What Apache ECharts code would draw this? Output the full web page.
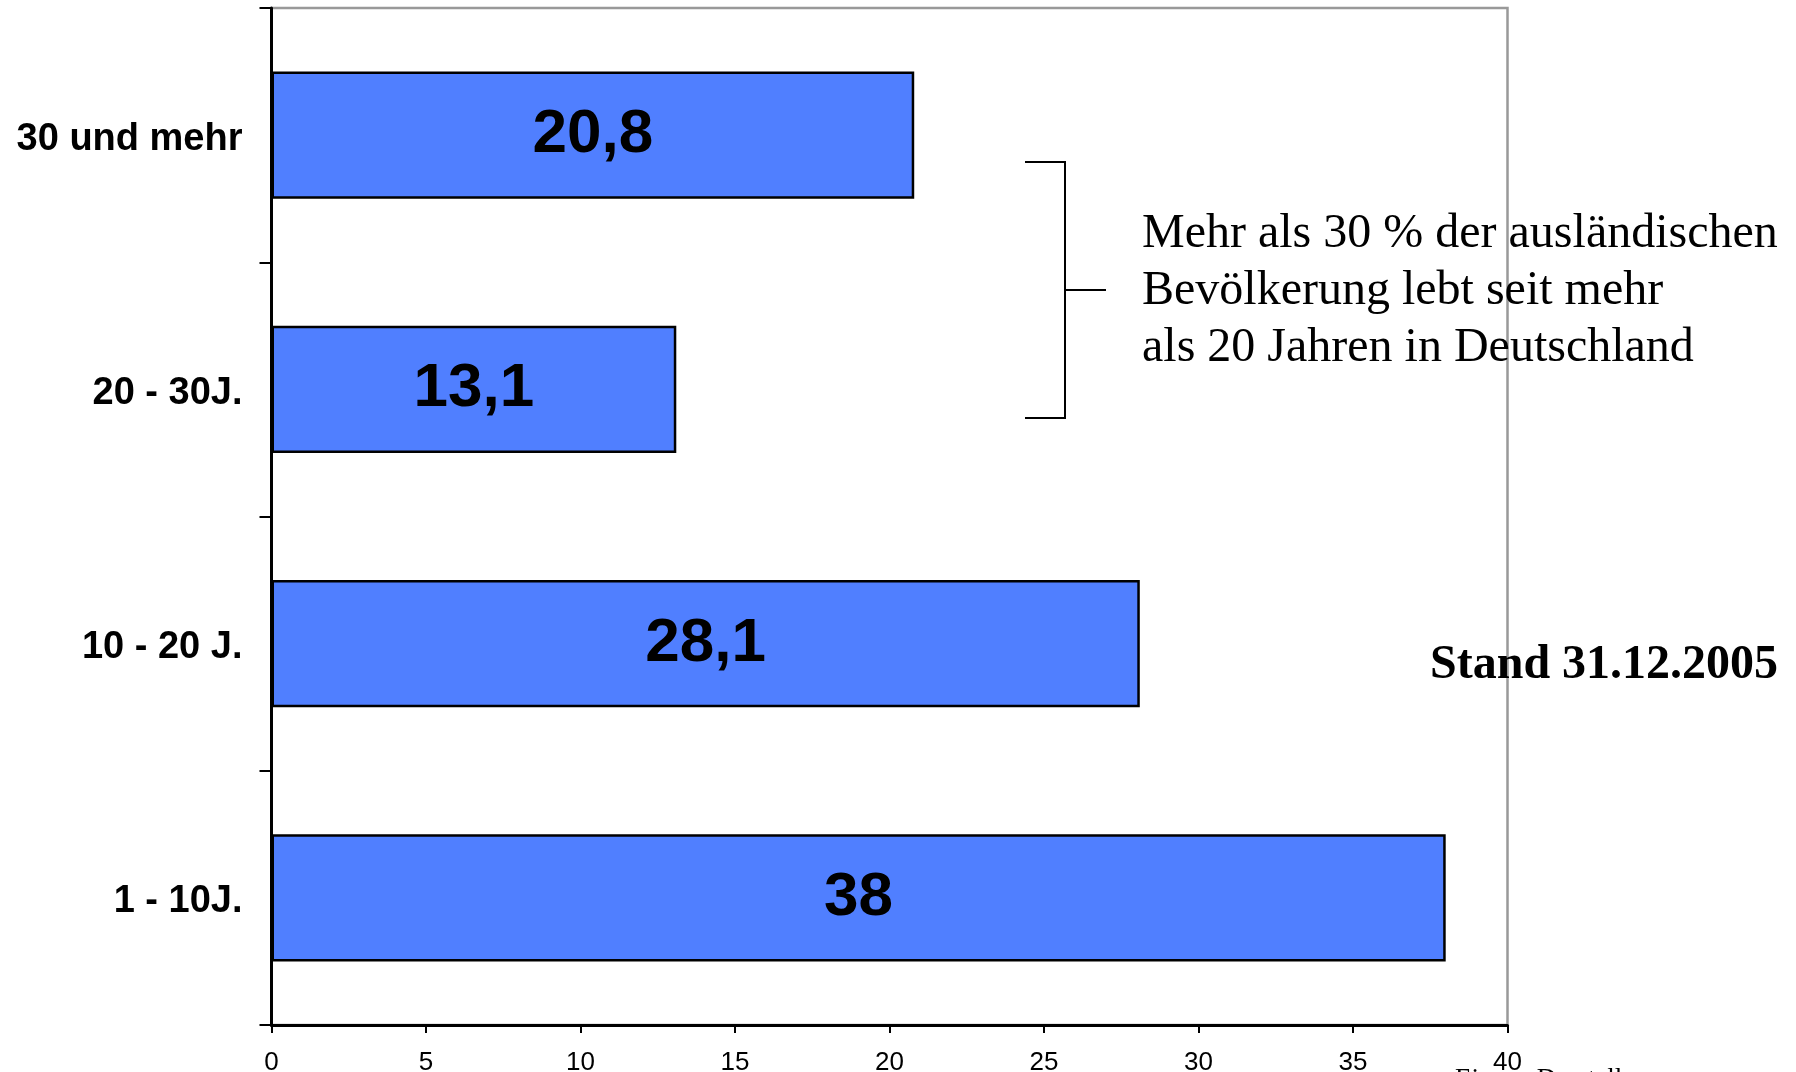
<!DOCTYPE html>
<html>
<head>
<meta charset="utf-8">
<script src="https://cdn.jsdelivr.net/npm/echarts@6/dist/echarts.min.js"></script>
<style>
  html, body { margin: 0; padding: 0; background: #fff; }
  #chart { width: 1796px; height: 1072px; }
</style>
</head>
<body>
<div id="chart"></div>
<script>
// data
const categories = ['1 - 10J.', '10 - 20 J.', '20 - 30J.', '30 und mehr'];
const values = [38, 28.1, 13.1, 20.8];
const xTicks = [0, 40, 5]; // min, max, interval
const noteLines = [
  'Mehr als 30 % der ausländischen',
  'Bevölkerung lebt seit mehr',
  'als 20 Jahren in Deutschland',
];
const standText = 'Stand 31.12.2005';
const sourceText = 'Eigene Darstellung';

const chart = echarts.init(document.getElementById('chart'));

const noteGraphics = noteLines.map((line, i) => ({
  type: 'text',
  left: 1142,
  top: 234 + i * 57 - 24,
  style: {
    text: line,
    font: '48px "Liberation Serif"',
    fill: '#000',
  },
}));

const option = {
  backgroundColor: '#fff',
  animation: false,
  grid: {
    left: 271.5,
    right: 288.5,
    top: 8,
    bottom: 47,
    containLabel: false,
    outerBoundsMode: 'none',
    show: true,
    borderColor: '#999',
    borderWidth: 2.5,
    backgroundColor: 'transparent',
  },
  xAxis: {
    type: 'value',
    min: xTicks[0],
    max: xTicks[1],
    interval: xTicks[2],
    splitLine: { show: false },
    axisLine: { show: true, lineStyle: { color: '#000', width: 3 } },
    axisTick: { show: true, length: 8, lineStyle: { color: '#000', width: 2 } },
    axisLabel: {
      margin: 25,
      color: '#000',
      fontSize: 26,
      fontFamily: 'Liberation Sans',
    },
  },
  yAxis: {
    type: 'category',
    data: categories,
    axisLine: { show: true, lineStyle: { color: '#000', width: 3 } },
    axisTick: { show: true, length: 12, lineStyle: { color: '#000', width: 2 } },
    axisLabel: {
      margin: 29,
      formatter: (v) => '{c|' + v + '}',
      rich: {
        c: {
          color: '#000',
          fontSize: 38,
          fontWeight: 'bold',
          fontFamily: 'Liberation Sans',
          padding: [8, 0, 0, 0],
        },
      },
    },
  },
  series: [
    {
      type: 'bar',
      data: values,
      barCategoryGap: '50%',
      itemStyle: {
        color: '#507FFF',
        borderColor: '#000',
        borderWidth: 2.5,
      },
      label: {
        show: true,
        position: 'inside',
        color: '#000',
        fontSize: 62,
        fontWeight: 'bold',
        fontFamily: 'Liberation Sans',
        formatter: (p) => String(p.value).replace('.', ','),
      },
    },
  ],
  graphic: [
    {
      type: 'polyline',
      shape: { points: [[1025, 162], [1065, 162], [1065, 418], [1025, 418]] },
      style: { stroke: '#000', lineWidth: 2, fill: null },
    },
    {
      type: 'line',
      shape: { x1: 1065, y1: 290, x2: 1106, y2: 290 },
      style: { stroke: '#000', lineWidth: 2 },
    },
    ...noteGraphics,
    {
      type: 'text',
      left: 1430,
      top: 666 - 24,
      style: {
        text: standText,
        font: 'bold 48px "Liberation Serif"',
        fill: '#000',
      },
    },
    {
      type: 'text',
      left: 1455,
      top: 1066,
      style: {
        text: sourceText,
        font: '27px "Liberation Serif"',
        fill: '#000',
      },
    },
  ],
};

chart.setOption(option);
window.addEventListener('resize', () => chart.resize());
</script>
</body>
</html>
